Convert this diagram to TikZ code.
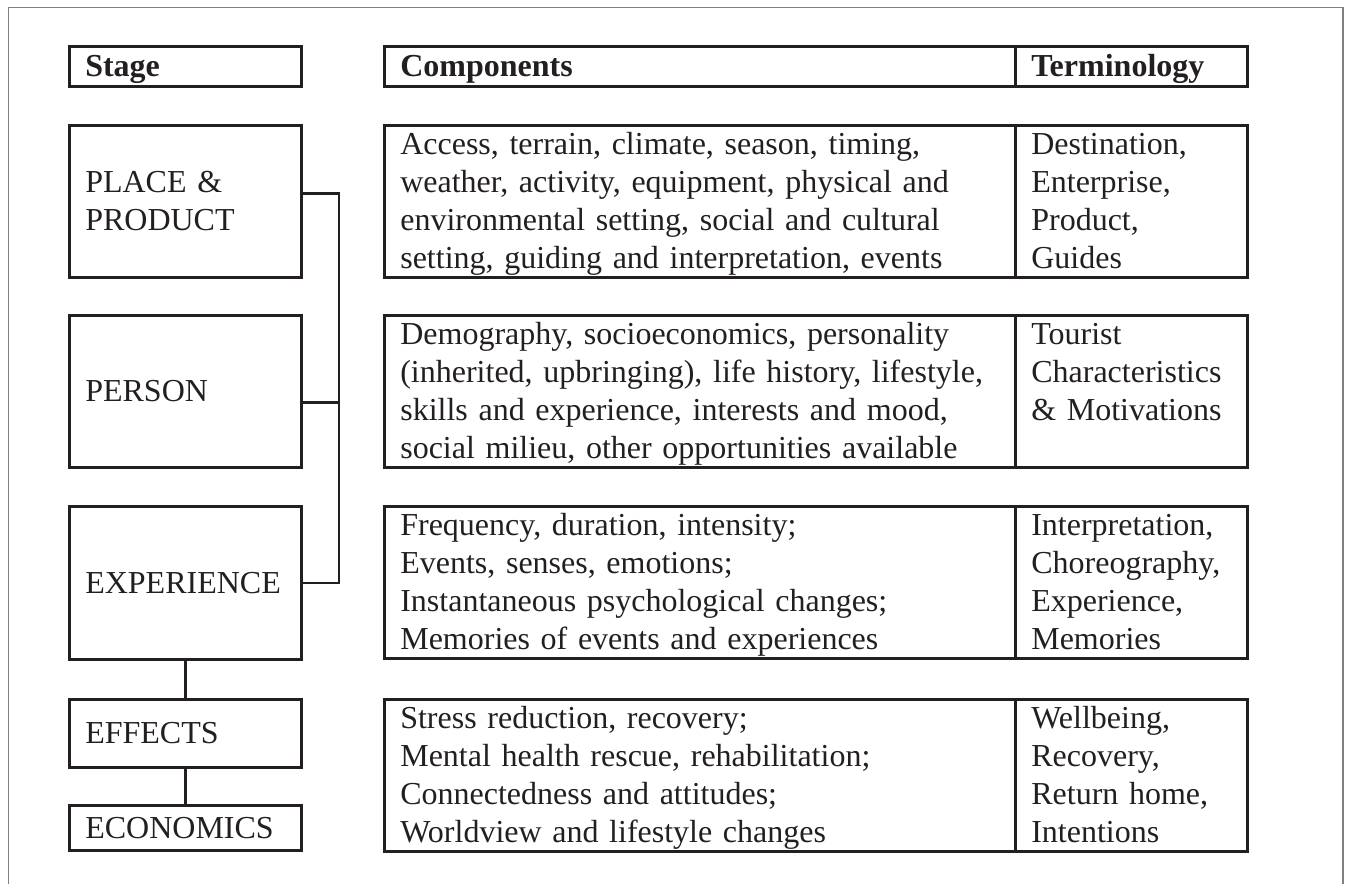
\documentclass[tikz,border=0pt]{standalone}
\usepackage{fontspec}
\setmainfont{Liberation Serif}
\usetikzlibrary{positioning,calc}
\definecolor{ink}{HTML}{231F20}
\hyphenpenalty=10000
\exhyphenpenalty=10000
\newcommand\cellstrut{\rule[-4.2pt]{0pt}{19pt}}

\begin{document}
\begin{tikzpicture}[x=0.5pt, y=-0.5pt, font=\fontsize{16}{19}\selectfont, color=ink,
  cell/.style={draw=ink, line width=1.3pt, anchor=north west, inner xsep=8pt, inner ysep=0pt, align=left,
    execute at begin node=\cellstrut, execute at end node=\cellstrut},
  stagebox/.style={cell, minimum width=116pt, text width=100pt},
  compbox/.style={cell, minimum width=315.5pt, text width=299.5pt, minimum height=76pt},
  termbox/.style={cell, minimum width=116pt, text width=100pt, minimum height=76pt},
  link/.style={draw=ink, line width=1.3pt},
]
\useasboundingbox (0,0) rectangle (1345,884);
\draw[gray, line width=0.6pt] (8.5,884) -- (8.5,7.5) -- (1343,7.5) -- (1343,884);

% headings
\node[stagebox, minimum height=20pt] (h-stage) at (68,45) {\textbf{Stage}};
\node[compbox, minimum height=20pt] (h-comp) at (383,45) {\textbf{Components}};
\node[termbox, minimum height=20pt] (h-term) at (1014,45) {\textbf{Terminology}};

% stages
\node[stagebox, minimum height=76pt] (place) at (68,124) {PLACE \&\\PRODUCT};
\node[stagebox, minimum height=76pt] (person) at (68,314) {PERSON};
\node[stagebox, minimum height=76.5pt] (exp) at (68,505) {EXPERIENCE};
\node[stagebox, minimum height=34pt] (eff) at (68,698) {EFFECTS};
\node[stagebox, minimum height=22.5pt] (econ) at (68,804) {ECONOMICS};

% components and terminology
\node[compbox] (c-place) at (383,124) {Access, terrain, climate, season, timing,\\weather, activity, equipment, physical and\\environmental setting, social and cultural\\setting, guiding and interpretation, events};
\node[termbox] (t-place) at (1014,124) {Destination,\\Enterprise,\\Product,\\Guides};
\node[compbox] (c-person) at (383,314) {Demography, socioeconomics, personality\\(inherited, upbringing), life history, lifestyle,\\skills and experience, interests and mood,\\social milieu, other opportunities available};
\node[termbox] (t-person) at (1014,314) {Tourist\\Characteristics\\\& Motivations\\\mbox{}};
\node[compbox] (c-exp) at (383,505) {Frequency, duration, intensity;\\Events, senses, emotions;\\Instantaneous psychological changes;\\Memories of events and experiences};
\node[termbox] (t-exp) at (1014,505) {Interpretation,\\Choreography,\\Experience,\\Memories};
\node[compbox] (c-eff) at (383,698) {Stress reduction, recovery;\\Mental health rescue, rehabilitation;\\Connectedness and attitudes;\\Worldview and lifestyle changes};
\node[termbox] (t-eff) at (1014,698) {Wellbeing,\\Recovery,\\Return home,\\Intentions};

% links between stages
\coordinate (bar) at (339,0);
\coordinate (place-link) at ([yshift=4pt]place.east);
\coordinate (person-link) at ([yshift=-5.5pt]person.east);
\draw[link] (place-link) -| (bar |- exp.east) -- (exp.east);
\draw[link] (person-link) -- (person-link -| bar);
\draw[link] (exp.south) -- (eff.north);
\draw[link] (eff.south) -- (econ.north);
\end{tikzpicture}
\end{document}
